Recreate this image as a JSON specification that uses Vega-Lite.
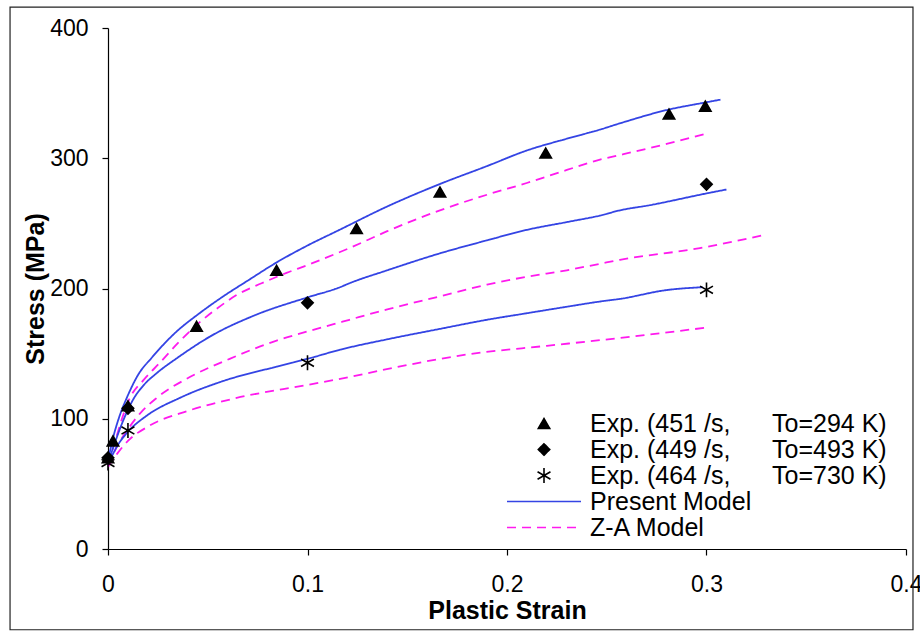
{
  "$schema": "https://vega.github.io/schema/vega-lite/v6.json",
  "width": 798,
  "height": 521,
  "autosize": {"type": "none"},
  "padding": {"left": 108, "top": 28, "right": 14, "bottom": 85},
  "background": "white",
  "config": {
    "view": {"stroke": null},
    "font": "Liberation Sans",
    "axis": {
      "grid": false,
      "domainColor": "black",
      "domainWidth": 1.2,
      "tickColor": "black",
      "tickWidth": 1.2,
      "tickSize": 6,
      "labelFont": "Liberation Sans",
      "labelFontSize": 23,
      "labelColor": "black",
      "labelFlush": false,
      "labelOverlap": false,
      "titleFont": "Liberation Sans",
      "titleFontWeight": "bold",
      "titleFontSize": 25,
      "titleColor": "black"
    },
    "axisX": {"labelPadding": 18, "titlePadding": 2},
    "axisY": {"labelPadding": 14, "titlePadding": 1}
  },
  "datasets": {
    "models": [
      {"curve": "P294", "key": "Present Model", "x": 0, "y": 68},
      {"curve": "P294", "key": "Present Model", "x": 0.003, "y": 88},
      {"curve": "P294", "key": "Present Model", "x": 0.006, "y": 103},
      {"curve": "P294", "key": "Present Model", "x": 0.0094, "y": 116},
      {"curve": "P294", "key": "Present Model", "x": 0.0152, "y": 134},
      {"curve": "P294", "key": "Present Model", "x": 0.022, "y": 147},
      {"curve": "P294", "key": "Present Model", "x": 0.0344, "y": 167},
      {"curve": "P294", "key": "Present Model", "x": 0.045, "y": 180},
      {"curve": "P294", "key": "Present Model", "x": 0.0578, "y": 194},
      {"curve": "P294", "key": "Present Model", "x": 0.07, "y": 206},
      {"curve": "P294", "key": "Present Model", "x": 0.0845, "y": 220},
      {"curve": "P294", "key": "Present Model", "x": 0.1, "y": 233},
      {"curve": "P294", "key": "Present Model", "x": 0.116, "y": 245},
      {"curve": "P294", "key": "Present Model", "x": 0.14, "y": 263},
      {"curve": "P294", "key": "Present Model", "x": 0.166, "y": 280},
      {"curve": "P294", "key": "Present Model", "x": 0.19, "y": 294},
      {"curve": "P294", "key": "Present Model", "x": 0.21, "y": 306},
      {"curve": "P294", "key": "Present Model", "x": 0.23, "y": 315},
      {"curve": "P294", "key": "Present Model", "x": 0.2466, "y": 322},
      {"curve": "P294", "key": "Present Model", "x": 0.257, "y": 327},
      {"curve": "P294", "key": "Present Model", "x": 0.28, "y": 337},
      {"curve": "P294", "key": "Present Model", "x": 0.3, "y": 343},
      {"curve": "P294", "key": "Present Model", "x": 0.307, "y": 345},

      {"curve": "Z294", "key": "Z-A Model", "x": 0, "y": 65},
      {"curve": "Z294", "key": "Z-A Model", "x": 0.004, "y": 85},
      {"curve": "Z294", "key": "Z-A Model", "x": 0.007, "y": 100},
      {"curve": "Z294", "key": "Z-A Model", "x": 0.011, "y": 116},
      {"curve": "Z294", "key": "Z-A Model", "x": 0.018, "y": 130},
      {"curve": "Z294", "key": "Z-A Model", "x": 0.026, "y": 143},
      {"curve": "Z294", "key": "Z-A Model", "x": 0.035, "y": 158},
      {"curve": "Z294", "key": "Z-A Model", "x": 0.0444, "y": 172},
      {"curve": "Z294", "key": "Z-A Model", "x": 0.055, "y": 185},
      {"curve": "Z294", "key": "Z-A Model", "x": 0.0645, "y": 195},
      {"curve": "Z294", "key": "Z-A Model", "x": 0.077, "y": 204},
      {"curve": "Z294", "key": "Z-A Model", "x": 0.0895, "y": 212},
      {"curve": "Z294", "key": "Z-A Model", "x": 0.1, "y": 218},
      {"curve": "Z294", "key": "Z-A Model", "x": 0.1163, "y": 228},
      {"curve": "Z294", "key": "Z-A Model", "x": 0.121, "y": 231},
      {"curve": "Z294", "key": "Z-A Model", "x": 0.14, "y": 244},
      {"curve": "Z294", "key": "Z-A Model", "x": 0.1664, "y": 260},
      {"curve": "Z294", "key": "Z-A Model", "x": 0.19, "y": 272},
      {"curve": "Z294", "key": "Z-A Model", "x": 0.2099, "y": 281},
      {"curve": "Z294", "key": "Z-A Model", "x": 0.23, "y": 291},
      {"curve": "Z294", "key": "Z-A Model", "x": 0.2466, "y": 299},
      {"curve": "Z294", "key": "Z-A Model", "x": 0.2566, "y": 302.5},
      {"curve": "Z294", "key": "Z-A Model", "x": 0.28, "y": 311},
      {"curve": "Z294", "key": "Z-A Model", "x": 0.3, "y": 319},

      {"curve": "P493", "key": "Present Model", "x": 0, "y": 66},
      {"curve": "P493", "key": "Present Model", "x": 0.004, "y": 84},
      {"curve": "P493", "key": "Present Model", "x": 0.008, "y": 100},
      {"curve": "P493", "key": "Present Model", "x": 0.0127, "y": 115},
      {"curve": "P493", "key": "Present Model", "x": 0.018, "y": 126},
      {"curve": "P493", "key": "Present Model", "x": 0.0244, "y": 135},
      {"curve": "P493", "key": "Present Model", "x": 0.035, "y": 147},
      {"curve": "P493", "key": "Present Model", "x": 0.051, "y": 163},
      {"curve": "P493", "key": "Present Model", "x": 0.0745, "y": 180},
      {"curve": "P493", "key": "Present Model", "x": 0.0996, "y": 193},
      {"curve": "P493", "key": "Present Model", "x": 0.1163, "y": 201},
      {"curve": "P493", "key": "Present Model", "x": 0.121, "y": 204},
      {"curve": "P493", "key": "Present Model", "x": 0.14, "y": 214},
      {"curve": "P493", "key": "Present Model", "x": 0.1664, "y": 227},
      {"curve": "P493", "key": "Present Model", "x": 0.19, "y": 237},
      {"curve": "P493", "key": "Present Model", "x": 0.2099, "y": 245},
      {"curve": "P493", "key": "Present Model", "x": 0.23, "y": 251},
      {"curve": "P493", "key": "Present Model", "x": 0.2466, "y": 256},
      {"curve": "P493", "key": "Present Model", "x": 0.2566, "y": 260},
      {"curve": "P493", "key": "Present Model", "x": 0.2717, "y": 264},
      {"curve": "P493", "key": "Present Model", "x": 0.3, "y": 273},
      {"curve": "P493", "key": "Present Model", "x": 0.31, "y": 276},

      {"curve": "Z493", "key": "Z-A Model", "x": 0, "y": 64},
      {"curve": "Z493", "key": "Z-A Model", "x": 0.005, "y": 80},
      {"curve": "Z493", "key": "Z-A Model", "x": 0.01, "y": 92},
      {"curve": "Z493", "key": "Z-A Model", "x": 0.016, "y": 104},
      {"curve": "Z493", "key": "Z-A Model", "x": 0.0244, "y": 116},
      {"curve": "Z493", "key": "Z-A Model", "x": 0.041, "y": 132},
      {"curve": "Z493", "key": "Z-A Model", "x": 0.061, "y": 146},
      {"curve": "Z493", "key": "Z-A Model", "x": 0.0845, "y": 160},
      {"curve": "Z493", "key": "Z-A Model", "x": 0.1, "y": 167},
      {"curve": "Z493", "key": "Z-A Model", "x": 0.1163, "y": 174},
      {"curve": "Z493", "key": "Z-A Model", "x": 0.121, "y": 176},
      {"curve": "Z493", "key": "Z-A Model", "x": 0.14, "y": 184},
      {"curve": "Z493", "key": "Z-A Model", "x": 0.1664, "y": 194},
      {"curve": "Z493", "key": "Z-A Model", "x": 0.19, "y": 203},
      {"curve": "Z493", "key": "Z-A Model", "x": 0.2099, "y": 209},
      {"curve": "Z493", "key": "Z-A Model", "x": 0.23, "y": 214},
      {"curve": "Z493", "key": "Z-A Model", "x": 0.2466, "y": 219},
      {"curve": "Z493", "key": "Z-A Model", "x": 0.2566, "y": 222},
      {"curve": "Z493", "key": "Z-A Model", "x": 0.2967, "y": 231},
      {"curve": "Z493", "key": "Z-A Model", "x": 0.3285, "y": 241},

      {"curve": "P730", "key": "Present Model", "x": 0, "y": 65},
      {"curve": "P730", "key": "Present Model", "x": 0.005, "y": 80},
      {"curve": "P730", "key": "Present Model", "x": 0.01, "y": 90},
      {"curve": "P730", "key": "Present Model", "x": 0.02, "y": 103},
      {"curve": "P730", "key": "Present Model", "x": 0.036, "y": 116},
      {"curve": "P730", "key": "Present Model", "x": 0.0578, "y": 129},
      {"curve": "P730", "key": "Present Model", "x": 0.0845, "y": 140},
      {"curve": "P730", "key": "Present Model", "x": 0.1, "y": 146},
      {"curve": "P730", "key": "Present Model", "x": 0.1163, "y": 153},
      {"curve": "P730", "key": "Present Model", "x": 0.14, "y": 161},
      {"curve": "P730", "key": "Present Model", "x": 0.1664, "y": 169},
      {"curve": "P730", "key": "Present Model", "x": 0.19, "y": 176},
      {"curve": "P730", "key": "Present Model", "x": 0.2099, "y": 181},
      {"curve": "P730", "key": "Present Model", "x": 0.23, "y": 186},
      {"curve": "P730", "key": "Present Model", "x": 0.2466, "y": 190},
      {"curve": "P730", "key": "Present Model", "x": 0.2566, "y": 192},
      {"curve": "P730", "key": "Present Model", "x": 0.28, "y": 198.8},
      {"curve": "P730", "key": "Present Model", "x": 0.298, "y": 201},

      {"curve": "Z730", "key": "Z-A Model", "x": 0, "y": 63},
      {"curve": "Z730", "key": "Z-A Model", "x": 0.005, "y": 74},
      {"curve": "Z730", "key": "Z-A Model", "x": 0.01, "y": 83},
      {"curve": "Z730", "key": "Z-A Model", "x": 0.02, "y": 94},
      {"curve": "Z730", "key": "Z-A Model", "x": 0.04, "y": 106},
      {"curve": "Z730", "key": "Z-A Model", "x": 0.0645, "y": 116},
      {"curve": "Z730", "key": "Z-A Model", "x": 0.1, "y": 126},
      {"curve": "Z730", "key": "Z-A Model", "x": 0.121, "y": 132},
      {"curve": "Z730", "key": "Z-A Model", "x": 0.1363, "y": 137},
      {"curve": "Z730", "key": "Z-A Model", "x": 0.1831, "y": 150},
      {"curve": "Z730", "key": "Z-A Model", "x": 0.22, "y": 156},
      {"curve": "Z730", "key": "Z-A Model", "x": 0.2566, "y": 162},
      {"curve": "Z730", "key": "Z-A Model", "x": 0.3, "y": 170}
    ],
    "experiments": [
      {"key": "Exp. (464 /s,\u00a0\u00a0\u00a0\u00a0\u00a0\u00a0To=730 K)", "x": 0, "y": 66},
      {"key": "Exp. (464 /s,\u00a0\u00a0\u00a0\u00a0\u00a0\u00a0To=730 K)", "x": 0.01, "y": 91},
      {"key": "Exp. (464 /s,\u00a0\u00a0\u00a0\u00a0\u00a0\u00a0To=730 K)", "x": 0.1, "y": 143},
      {"key": "Exp. (464 /s,\u00a0\u00a0\u00a0\u00a0\u00a0\u00a0To=730 K)", "x": 0.3, "y": 199},
      {"key": "Exp. (449 /s,\u00a0\u00a0\u00a0\u00a0\u00a0\u00a0To=493 K)", "x": 0, "y": 70},
      {"key": "Exp. (449 /s,\u00a0\u00a0\u00a0\u00a0\u00a0\u00a0To=493 K)", "x": 0.01, "y": 108},
      {"key": "Exp. (449 /s,\u00a0\u00a0\u00a0\u00a0\u00a0\u00a0To=493 K)", "x": 0.1, "y": 189},
      {"key": "Exp. (449 /s,\u00a0\u00a0\u00a0\u00a0\u00a0\u00a0To=493 K)", "x": 0.3, "y": 280},
      {"key": "Exp. (451 /s,\u00a0\u00a0\u00a0\u00a0\u00a0\u00a0To=294 K)", "x": 0, "y": 70},
      {"key": "Exp. (451 /s,\u00a0\u00a0\u00a0\u00a0\u00a0\u00a0To=294 K)", "x": 0.0025, "y": 83},
      {"key": "Exp. (451 /s,\u00a0\u00a0\u00a0\u00a0\u00a0\u00a0To=294 K)", "x": 0.01, "y": 110},
      {"key": "Exp. (451 /s,\u00a0\u00a0\u00a0\u00a0\u00a0\u00a0To=294 K)", "x": 0.0444, "y": 171},
      {"key": "Exp. (451 /s,\u00a0\u00a0\u00a0\u00a0\u00a0\u00a0To=294 K)", "x": 0.0845, "y": 214},
      {"key": "Exp. (451 /s,\u00a0\u00a0\u00a0\u00a0\u00a0\u00a0To=294 K)", "x": 0.1246, "y": 246},
      {"key": "Exp. (451 /s,\u00a0\u00a0\u00a0\u00a0\u00a0\u00a0To=294 K)", "x": 0.1664, "y": 274},
      {"key": "Exp. (451 /s,\u00a0\u00a0\u00a0\u00a0\u00a0\u00a0To=294 K)", "x": 0.2194, "y": 304},
      {"key": "Exp. (451 /s,\u00a0\u00a0\u00a0\u00a0\u00a0\u00a0To=294 K)", "x": 0.2812, "y": 334},
      {"key": "Exp. (451 /s,\u00a0\u00a0\u00a0\u00a0\u00a0\u00a0To=294 K)", "x": 0.2994, "y": 340}
    ]
  },
  "layer": [
    {
      "data": {"values": [{}]},
      "mark": {"type": "rect", "fill": null, "stroke": "#222222", "strokeWidth": 1.2},
      "encoding": {
        "x": {"datum": -0.0491, "type": "quantitative"},
        "x2": {"datum": 0.4035},
        "y": {"datum": 416, "type": "quantitative"},
        "y2": {"datum": -62}
      }
    },
    {
      "data": {"name": "models"},
      "mark": {"type": "line", "strokeWidth": 1.8, "interpolate": "monotone"},
      "encoding": {
        "x": {
          "field": "x",
          "type": "quantitative",
          "scale": {"domain": [0, 0.4], "nice": false},
          "axis": {"title": "Plastic Strain", "values": [0, 0.1, 0.2, 0.3, 0.4], "format": "~g"}
        },
        "y": {
          "field": "y",
          "type": "quantitative",
          "scale": {"domain": [0, 400], "nice": false},
          "axis": {"title": "Stress (MPa)", "values": [0, 100, 200, 300, 400]}
        },
        "color": {
          "field": "key",
          "type": "nominal",
          "scale": {
            "domain": [
              "Exp. (451 /s,\u00a0\u00a0\u00a0\u00a0\u00a0\u00a0To=294 K)",
              "Exp. (449 /s,\u00a0\u00a0\u00a0\u00a0\u00a0\u00a0To=493 K)",
              "Exp. (464 /s,\u00a0\u00a0\u00a0\u00a0\u00a0\u00a0To=730 K)",
              "Present Model",
              "Z-A Model"
            ],
            "range": ["#000000", "#000000", "#000000", "#3444e4", "#ff1aee"]
          },
          "legend": {
            "title": null,
            "orient": "none",
            "direction": "vertical",
            "columns": 1,
            "legendX": 398,
            "legendY": 383,
            "padding": 0,
            "rowPadding": 0,
            "clipHeight": 25,
            "symbolOffset": 0,
            "symbolSize": 5476,
            "labelOffset": 8,
            "labelFont": "Liberation Sans",
            "labelFontSize": 25,
            "labelColor": "black",
            "labelLimit": 400,
            "encode": {
              "symbols": {
                "update": {
                  "x": {"value": 38},
                  "shape": {"scale": "shape", "field": "value"},
                  "fill": {"scale": "color", "field": "value"},
                  "stroke": {"scale": "color", "field": "value"},
                  "strokeDash": {"scale": "strokeDash", "field": "value"},
                  "strokeWidth": {"value": 1.6},
                  "size": {"signal": "datum.value == 'Present Model' || datum.value == 'Z-A Model' ? 5476 : 130"},
                  "opacity": {"value": 1}
                }
              },
              "labels": {
                "update": {
                  "x": {"value": 84}
                }
              }
            }
          }
        },
        "strokeDash": {
          "field": "key",
          "type": "nominal",
          "scale": {
            "domain": [
              "Exp. (451 /s,\u00a0\u00a0\u00a0\u00a0\u00a0\u00a0To=294 K)",
              "Exp. (449 /s,\u00a0\u00a0\u00a0\u00a0\u00a0\u00a0To=493 K)",
              "Exp. (464 /s,\u00a0\u00a0\u00a0\u00a0\u00a0\u00a0To=730 K)",
              "Present Model",
              "Z-A Model"
            ],
            "range": [[1, 0], [1, 0], [1, 0], [1, 0], [9, 6]]
          },
          "legend": null
        },
        "detail": {"field": "curve"}
      }
    },
    {
      "data": {"name": "experiments"},
      "mark": {"type": "point", "filled": true, "stroke": "black", "strokeWidth": 1.6, "opacity": 1, "size": 130},
      "encoding": {
        "x": {"field": "x", "type": "quantitative"},
        "y": {"field": "y", "type": "quantitative"},
        "color": {"field": "key", "type": "nominal"},
        "shape": {
          "field": "key",
          "type": "nominal",
          "scale": {
            "domain": [
              "Exp. (451 /s,\u00a0\u00a0\u00a0\u00a0\u00a0\u00a0To=294 K)",
              "Exp. (449 /s,\u00a0\u00a0\u00a0\u00a0\u00a0\u00a0To=493 K)",
              "Exp. (464 /s,\u00a0\u00a0\u00a0\u00a0\u00a0\u00a0To=730 K)",
              "Present Model",
              "Z-A Model"
            ],
            "range": [
              "triangle-up",
              "diamond",
              "M0,-1.3V1.3M-1.13,-0.65L1.13,0.65M-1.13,0.65L1.13,-0.65",
              "stroke",
              "stroke"
            ]
          },
          "legend": null
        }
      }
    }
  ]
}
